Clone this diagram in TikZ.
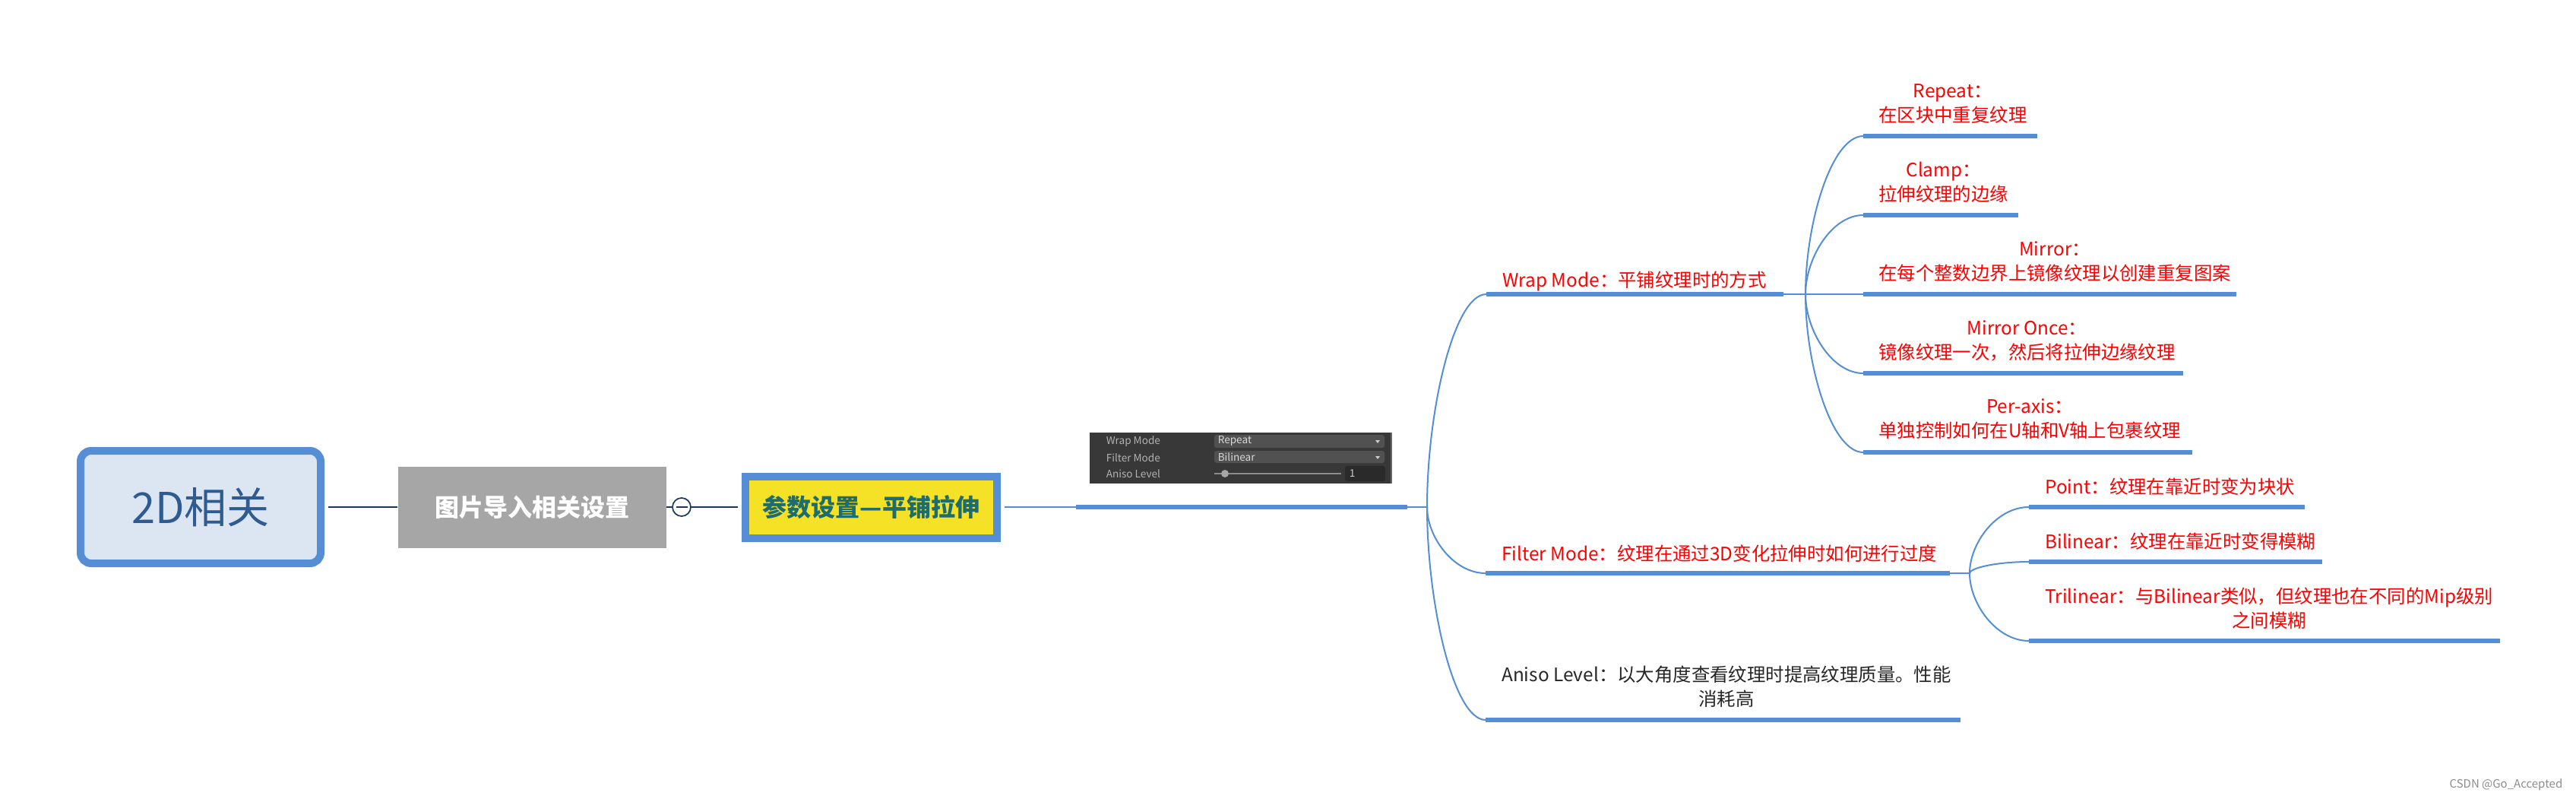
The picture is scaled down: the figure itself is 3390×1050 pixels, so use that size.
\documentclass[tikz,border=0pt]{standalone}
\usepackage{fontspec}
\setmainfont{Noto Sans CJK SC}
\usetikzlibrary{calc}

\definecolor{mapblue}{RGB}{85,142,213}
\definecolor{mapnavy}{RGB}{23,55,94}
\definecolor{rootfill}{RGB}{220,230,242}
\definecolor{roottext}{RGB}{47,91,145}
\definecolor{subgray}{RGB}{166,166,166}
\definecolor{topicyel}{RGB}{245,226,39}
\definecolor{topicteal}{RGB}{28,108,112}
\definecolor{panelbg}{RGB}{56,56,56}
\definecolor{dropbg}{RGB}{81,81,81}
\definecolor{fieldbg}{RGB}{42,42,42}

\tikzset{every picture/.style={line width=0.75pt}}

\begin{document}
\begin{tikzpicture}[x=0.5pt,y=0.5pt,yscale=-1,xscale=1,
  bar/.style={color=mapblue, line width=2.75pt},
  twig/.style={color=mapblue, line width=1pt},
  leaf/.style={anchor=west, align=center, inner sep=0.75pt, text=red, font=\fontsize{12.2}{16}\selectfont},
  shot/.style={anchor=west, inner sep=0pt, font=\fontsize{6.8}{8}\selectfont}]
\useasboundingbox (0,0) rectangle (3390,1050);

%Shape: Rounded Rect
\node (root) [draw=mapblue, line width=5pt, fill=rootfill, rounded corners=7pt, minimum width=158pt, minimum height=74pt, text=roottext, font=\fontsize{28}{32}\selectfont] at (264,667) {2D相关};
%Shape: Rectangle
\node (import) [fill=subgray, minimum width=176.5pt, minimum height=53.5pt, text=white, font=\fontsize{16}{18}\selectfont\bfseries] at (700,667) {图片导入相关设置};
%Shape: Circle
\node (fold) [circle, draw=mapnavy, fill=white, line width=0.85pt, minimum size=12pt, inner sep=0pt] at (897,667) {};
\draw [mapnavy, line width=0.9pt] ($(fold)+(-7.5,0)$) -- ($(fold)+(7.5,0)$) ;
%Shape: Rectangle
\node (topic) [draw=mapblue, line width=5pt, fill=topicyel, minimum width=165.5pt, minimum height=40.5pt, text=topicteal, font=\fontsize{16}{18}\selectfont\bfseries] at (1146.5,667) {参数设置—平铺拉伸};

%Straight Lines
\draw [mapnavy, line width=1pt, shorten <=2.5pt] (root.east) -- (import.west) ;
\draw [mapnavy, line width=1pt] (import.east) -- (fold.west) ;
\draw [mapnavy, line width=1pt, shorten >=2.5pt] (fold.east) -- (topic.west) ;

% bar ends
\coordinate (mainL) at (1416,667); \coordinate (mainR) at (1852,667); \coordinate (trunkJ) at (1878,667);
\coordinate (wrapL) at (1956,387); \coordinate (wrapR) at (2347,387); \coordinate (wrapJ) at (2376,387);
\coordinate (filterL) at (1955,754); \coordinate (filterR) at (2566,754); \coordinate (filterJ) at (2592,754);
\coordinate (anisoL) at (1955,947); \coordinate (anisoR) at (2580,947);
\coordinate (repeatL) at (2452,179); \coordinate (repeatR) at (2681,179);
\coordinate (clampL) at (2452,283); \coordinate (clampR) at (2656,283);
\coordinate (mirrorL) at (2452,387); \coordinate (mirrorR) at (2943,387);
\coordinate (onceL) at (2452,491); \coordinate (onceR) at (2873,491);
\coordinate (axisL) at (2452,595); \coordinate (axisR) at (2885,595);
\coordinate (pointL) at (2670,667); \coordinate (pointR) at (3033,667);
\coordinate (bilinL) at (2670,739); \coordinate (bilinR) at (3056,739);
\coordinate (trilinL) at (2670,843); \coordinate (trilinR) at (3290,843);

%Straight Lines
\draw [twig, shorten <=2.5pt] (topic.east) -- (mainL) ;
\draw [twig] (mainR) -- (trunkJ) ;
\draw [twig] (wrapR) -- (wrapJ) -- (mirrorL) ;
\draw [twig] (filterR) -- (filterJ) ;

%Curve Lines
\draw [twig] (trunkJ) .. controls ($(trunkJ)!0.45!(trunkJ |- wrapL)$) and ($(trunkJ |- wrapL)!0.45!(wrapL)$) .. (wrapL) ;
\draw [twig] (trunkJ) .. controls ($(trunkJ)!0.45!(trunkJ |- filterL)$) and ($(trunkJ |- filterL)!0.45!(filterL)$) .. (filterL) ;
\draw [twig] (trunkJ) .. controls ($(trunkJ)!0.45!(trunkJ |- anisoL)$) and ($(trunkJ |- anisoL)!0.45!(anisoL)$) .. (anisoL) ;
\draw [twig] (wrapJ) .. controls ($(wrapJ)!0.45!(wrapJ |- repeatL)$) and ($(wrapJ |- repeatL)!0.45!(repeatL)$) .. (repeatL) ;
\draw [twig] (wrapJ) .. controls ($(wrapJ)!0.45!(wrapJ |- clampL)$) and ($(wrapJ |- clampL)!0.45!(clampL)$) .. (clampL) ;
\draw [twig] (wrapJ) .. controls ($(wrapJ)!0.45!(wrapJ |- onceL)$) and ($(wrapJ |- onceL)!0.45!(onceL)$) .. (onceL) ;
\draw [twig] (wrapJ) .. controls ($(wrapJ)!0.45!(wrapJ |- axisL)$) and ($(wrapJ |- axisL)!0.45!(axisL)$) .. (axisL) ;
\draw [twig] (filterJ) .. controls ($(filterJ)!0.45!(filterJ |- pointL)$) and ($(filterJ |- pointL)!0.45!(pointL)$) .. (pointL) ;
\draw [twig] (filterJ) .. controls ($(filterJ)!0.45!(filterJ |- bilinL)$) and ($(filterJ |- bilinL)!0.45!(bilinL)$) .. (bilinL) ;
\draw [twig] (filterJ) .. controls ($(filterJ)!0.45!(filterJ |- trilinL)$) and ($(filterJ |- trilinL)!0.45!(trilinL)$) .. (trilinL) ;

%Thick bars
\draw [bar] (mainL) -- (mainR) ;
\draw [bar] (wrapL) -- (wrapR) ;
\draw [bar] (filterL) -- (filterR) ;
\draw [bar] (anisoL) -- (anisoR) ;
\draw [bar] (repeatL) -- (repeatR) ;
\draw [bar] (clampL) -- (clampR) ;
\draw [bar] (mirrorL) -- (mirrorR) ;
\draw [bar] (onceL) -- (onceR) ;
\draw [bar] (axisL) -- (axisR) ;
\draw [bar] (pointL) -- (pointR) ;
\draw [bar] (bilinL) -- (bilinR) ;
\draw [bar] (trilinL) -- (trilinR) ;

%Shape: Inspector panel
\fill [panelbg] (1434,569) rectangle (1832,636) ;
\draw [black!60, line width=1pt] (1831,569) -- (1831,636) ;
\fill [dropbg, rounded corners=1.5pt] (1598,572) rectangle (1822,589) ;
\fill [dropbg, rounded corners=1.5pt] (1598,593) rectangle (1822,609) ;
\fill [fieldbg, rounded corners=1.5pt] (1770,613) rectangle (1823,633) ;
\draw [black!45, line width=0.8pt] (1598,623) -- (1765,623) ;
\fill [black!35] (1612,623) circle (5) ;
\fill [black!20] (1810,579) -- (1816,579) -- (1813,583) -- cycle ;
\fill [black!20] (1810,600) -- (1816,600) -- (1813,604) -- cycle ;
\draw (1455,581) node (shotWrap) [shot, text=black!30] {Wrap Mode};
\draw (1455,602) node (shotFilter) [shot, text=black!30] {Filter Mode};
\draw (1455,623) node (shotAniso) [shot, text=black!30] {Aniso Level};
\draw (1602,580.5) node (shotRepeat) [shot, text=black!15] {Repeat};
\draw (1602,601) node (shotBilin) [shot, text=black!15] {Bilinear};
\draw (1775,623) node (shotOne) [shot, text=black!20] {1};

% Text Node
\draw (1975,370) node (wrapTxt) [leaf] {Wrap Mode：平铺纹理时的方式};
% Text Node
\draw (1974,728) node (filterTxt) [leaf] {Filter Mode：纹理在通过3D变化拉伸时如何进行过度};
% Text Node
\draw (1974,903) node (anisoTxt) [leaf, text=black!85] {Aniso Level：以大角度查看纹理时提高纹理质量。性能\\消耗高};
% Text Node
\draw (2470,137) node (repeatTxt) [leaf] {Repeat：\\在区块中重复纹理};
% Text Node
\draw (2470,240) node (clampTxt) [leaf] {Clamp：\\拉伸纹理的边缘};
% Text Node
\draw (2470,344) node (mirrorTxt) [leaf] {Mirror：\\在每个整数边界上镜像纹理以创建重复图案};
% Text Node
\draw (2470,448) node (onceTxt) [leaf] {Mirror Once：\\镜像纹理一次，然后将拉伸边缘纹理};
% Text Node
\draw (2470,551) node (axisTxt) [leaf] {Per-axis：\\单独控制如何在U轴和V轴上包裹纹理};
% Text Node
\draw (2689,640) node (pointTxt) [leaf] {Point：纹理在靠近时变为块状};
% Text Node
\draw (2689,712) node (bilinTxt) [leaf] {Bilinear：纹理在靠近时变得模糊};
% Text Node
\draw (2689,800) node (trilinTxt) [leaf] {Trilinear：与Bilinear类似，但纹理也在不同的Mip级别\\之间模糊};
% Text Node
\draw (3373,1032) node (mark) [anchor=east, inner sep=0pt, text=black!45, font=\fontsize{7.5}{9}\selectfont] {CSDN @Go\_Accepted};

\end{tikzpicture}
\end{document}
